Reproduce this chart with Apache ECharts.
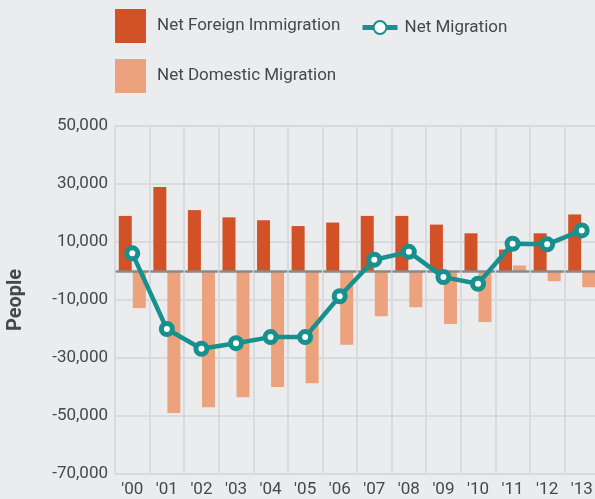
<!DOCTYPE html>
<html>
<head>
<meta charset="utf-8">
<script src="https://cdn.jsdelivr.net/npm/echarts@6/dist/echarts.min.js"></script>
<style>
  html, body { margin: 0; padding: 0; background: #ebecee; }
  #chart { width: 595px; height: 499px; }
</style>
</head>
<body>
<div id="chart"></div>
<script>
  // years on the x axis
  var years = ["'00", "'01", "'02", "'03", "'04", "'05", "'06", "'07", "'08", "'09", "'10", "'11", "'12", "'13"]
  // values (people)
  var foreign = [19000, 29000, 21000, 18500, 17500, 15500, 16700, 19000, 19000, 16000, 13000, 7400, 13000, 19500]
  var domestic = [-12800, -49000, -47000, -43500, -40000, -38700, -25400, -15600, -12500, -18300, -17600, 1900, -3500, -5600]
  var netMigration = [6100, -20000, -26800, -24900, -22800, -22800, -8700, 3900, 6600, -2100, -4400, 9400, 9200, 14000]
  var yTicks = [-70000, -50000, -30000, -10000, 10000, 30000, 50000]

  var font = 'Roboto, "Noto Sans", sans-serif'
  var textColor = '#47474c'
  var gridColor = '#d9dadd'
  var teal = '#17908e'

  var myChart = echarts.init(document.getElementById('chart'), null, { renderer: 'canvas' })
  var option = {
    backgroundColor: '#ebecee',
    animation: false,
    textStyle: { fontFamily: font, color: textColor },
    legend: [
      {
        data: ['Net Foreign Immigration'],
        left: 115, top: 9, padding: 0,
        icon: 'rect',
        itemWidth: 31, itemHeight: 34,
        selectedMode: false,
        textStyle: { fontFamily: font, fontSize: 17, color: textColor, padding: [0, 0, 0, 6] }
      },
      {
        data: ['Net Migration'],
        left: 360, top: 19, padding: 0,
        itemWidth: 35, itemHeight: 16,
        selectedMode: false,
        lineStyle: { width: 5 },
        textStyle: { fontFamily: font, fontSize: 17, color: textColor, padding: [0, 0, 0, 2] }
      },
      {
        data: ['Net Domestic Migration'],
        left: 115, top: 59, padding: 0,
        icon: 'rect',
        itemWidth: 31, itemHeight: 34,
        selectedMode: false,
        textStyle: { fontFamily: font, fontSize: 17, color: textColor, padding: [0, 0, 0, 6] }
      }
    ],
    grid: { left: 115, top: 126, width: 484, height: 348, outerBoundsMode: 'none', containLabel: false },
    xAxis: [
      {
        type: 'category',
        data: years,
        position: 'bottom',
        axisLine: { show: false, onZero: false },
        axisTick: { show: false },
        axisLabel: { fontFamily: font, fontSize: 17, color: textColor, margin: 7, interval: 0 },
        splitLine: { show: true, interval: 0, lineStyle: { color: gridColor, width: 2 } }
      },
      {
        // zero line
        type: 'category',
        data: years,
        z: 3,
        axisLine: {
          show: true, onZero: true,
          lineStyle: { color: '#8a8a8c', width: 2.5, type: [31.3, 3.3], dashOffset: 32.95 }
        },
        axisTick: { show: false },
        axisLabel: { show: false },
        splitLine: { show: false }
      }
    ],
    yAxis: {
      type: 'value',
      min: -70000,
      max: 50000,
      name: 'People',
      nameLocation: 'middle',
      nameGap: 89,
      nameTextStyle: { fontFamily: font, fontSize: 20, fontWeight: 'bold', color: textColor },
      axisLine: { show: false },
      axisTick: { show: false, customValues: yTicks },
      axisLabel: {
        customValues: yTicks,
        fontFamily: font, fontSize: 17, color: textColor, margin: 7,
        formatter: function (v) { return v.toLocaleString('en-US') }
      },
      splitLine: { show: true, customValues: yTicks, lineStyle: { color: gridColor, width: 2 } }
    },
    series: [
      {
        name: 'Net Foreign Immigration',
        type: 'bar',
        barWidth: 13,
        barGap: '8%',
        itemStyle: { color: '#d35127' },
        data: foreign
      },
      {
        name: 'Net Domestic Migration',
        type: 'bar',
        barWidth: 13,
        barGap: '8%',
        itemStyle: { color: '#eba27d' },
        data: domestic
      },
      {
        name: 'Net Migration',
        type: 'line',
        z: 5,
        symbol: 'circle',
        symbolSize: 11,
        lineStyle: { color: teal, width: 4.5 },
        itemStyle: { color: '#ffffff', borderColor: teal, borderWidth: 5 },
        data: netMigration
      }
    ]
  }
  myChart.setOption(option, true)
</script>
</body>
</html>
